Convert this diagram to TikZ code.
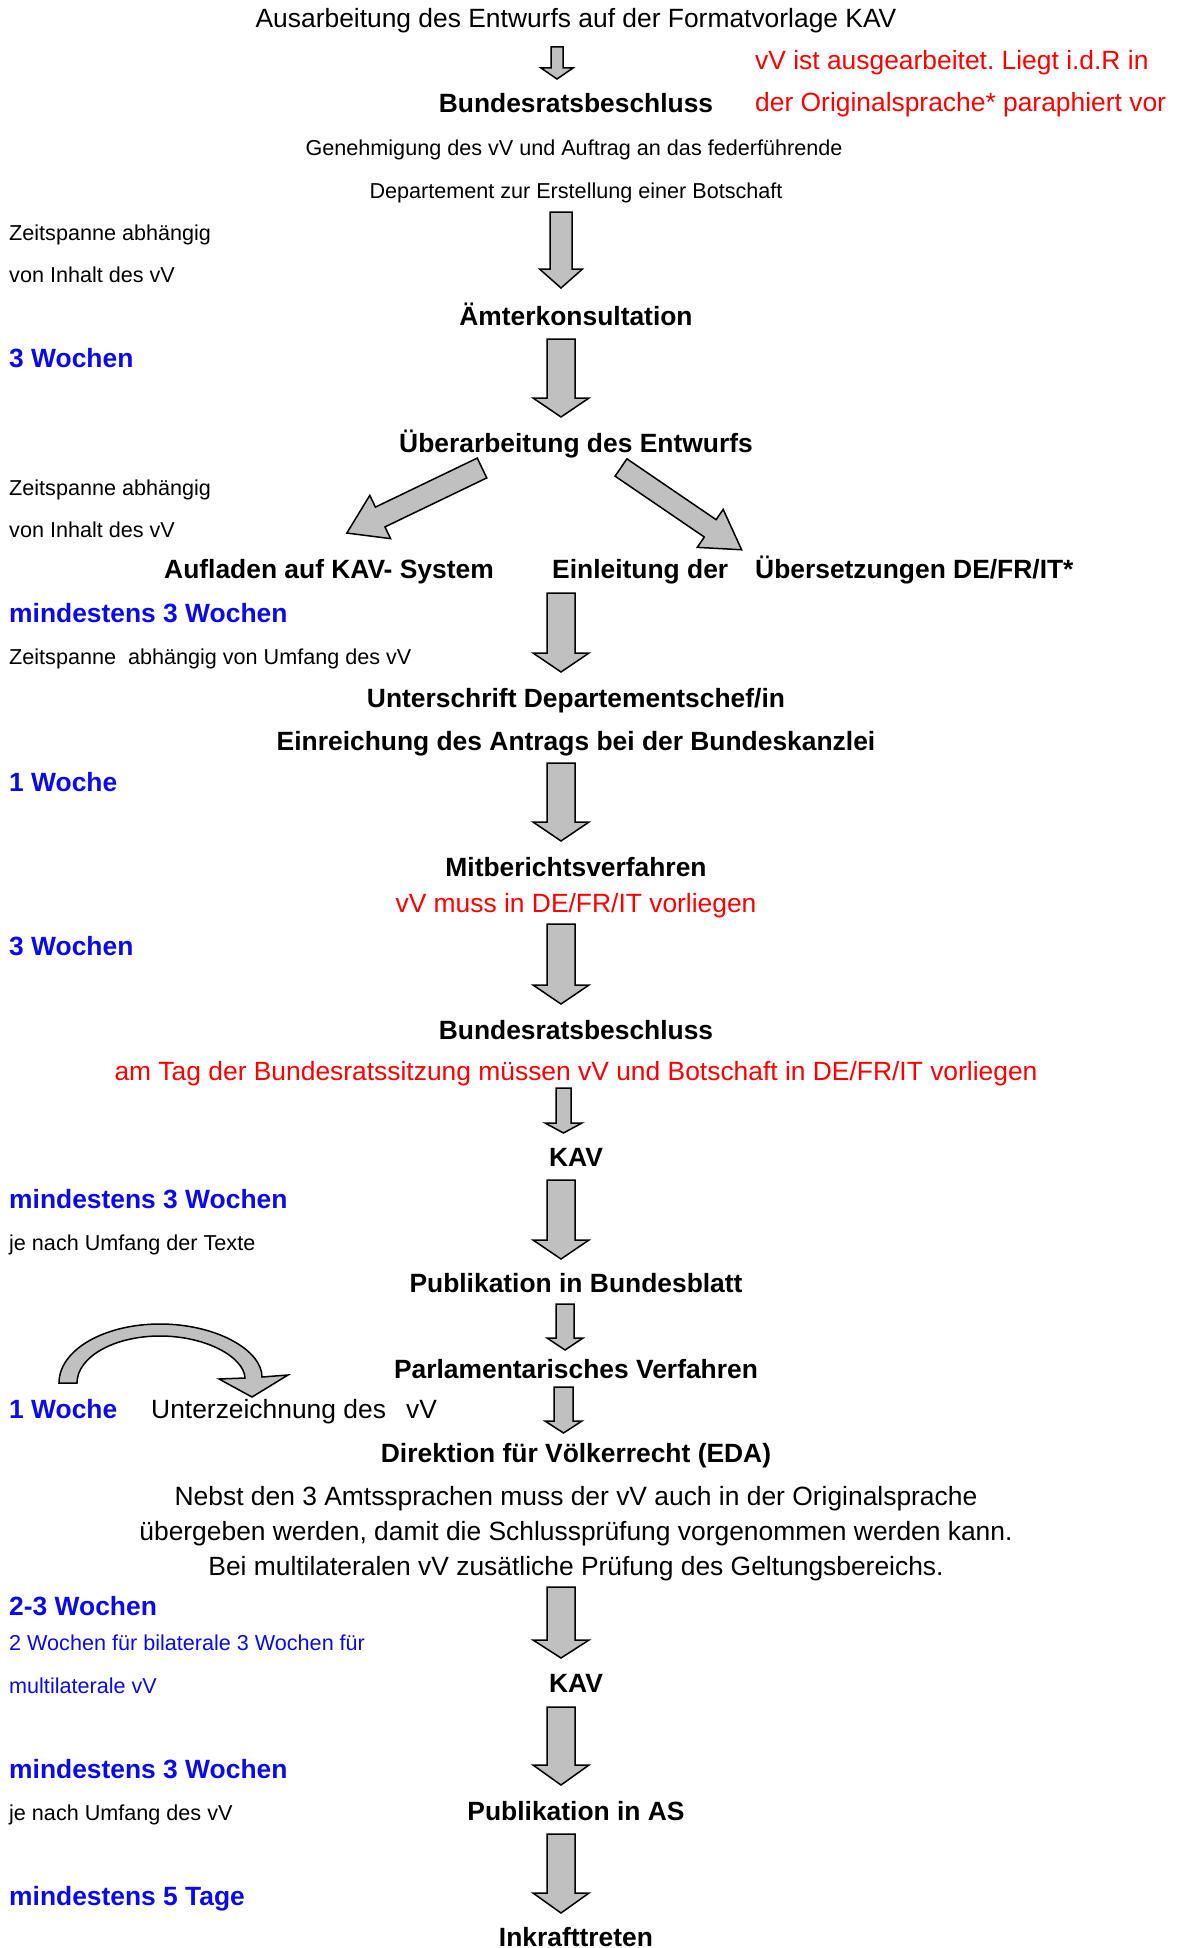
\documentclass[tikz,border=0pt]{standalone}
\usepackage{fontspec}
\setmainfont{Liberation Sans}
\frenchspacing
\definecolor{durblue}{RGB}{10,10,240}
\definecolor{notered}{RGB}{255,0,0}
\definecolor{arrowgray}{RGB}{192,192,192}
\newcommand\varrow[6]{% x, ytop, ytip, shaft half, head half, head length
  \draw[blk] ({#1-#4},#2) -- ({#1+#4},#2) -- ({#1+#4},{#3-#6}) -- ({#1+#5},{#3-#6})
    -- (#1,#3) -- ({#1-#5},{#3-#6}) -- ({#1-#4},{#3-#6}) -- cycle;}
\newcommand\darrow[7]{% tail x, tail y, angle, length, shaft half, head half, head length
  \begin{scope}[shift={(#1,#2)},rotate=#3]
  \draw[blk] (0,-#5) -- ({#4-#7},-#5) -- ({#4-#7},-#6) -- (#4,0) -- ({#4-#7},#6) -- ({#4-#7},#5) -- (0,#5) -- cycle;
  \end{scope}}
\begin{document}
\begin{tikzpicture}[x=1pt,y=-1pt,
  t/.style={inner sep=0pt, font=\fontsize{26.4}{31}\selectfont},
  tb/.style={inner sep=0pt, font=\fontsize{26.4}{31}\selectfont\bfseries},
  ts/.style={inner sep=0pt, font=\fontsize{21.6}{26}\selectfont},
  title/.style={tb, anchor=base},
  dur/.style={tb, text=durblue, anchor=base west},
  note/.style={ts, anchor=base west},
  rednote/.style={t, text=notered},
  blk/.style={draw=black, line width=1.5pt, fill=arrowgray, line join=miter}]
\useasboundingbox (0,0) rectangle (1183,1948);
\fill[white] (0,0) rectangle (1183,1948);

% ---- texts ----
\node[t, anchor=base] (start) at (576,28) {Ausarbeitung des Entwurfs auf der Formatvorlage KAV};
\node[rednote, anchor=base west] (r1) at (755,70) {vV ist ausgearbeitet. Liegt i.d.R in};
\node[rednote, anchor=base west] (r2) at (755,112) {der Originalsprache* paraphiert vor};
\node[title] (brb1) at (576,113) {Bundesratsbeschluss};
\node[ts, anchor=base] (gen1) at (574,155) {Genehmigung des vV und Auftrag an das federführende};
\node[ts, anchor=base] (gen2) at (576,198) {Departement zur Erstellung einer Botschaft};
\node[note] (z1a) at (9,240) {Zeitspanne abhängig};
\node[note] (z1b) at (9,282) {von Inhalt des vV};
\node[title] (amt) at (576,325) {Ämterkonsultation};
\node[dur] (d1) at (9,367) {3 Wochen};
\node[title] (ueb) at (576,452) {Überarbeitung des Entwurfs};
\node[note] (z2a) at (9,495) {Zeitspanne abhängig};
\node[note] (z2b) at (9,537) {von Inhalt des vV};
\node[tb, anchor=base west] (auf) at (164,578) {Aufladen auf KAV-\ System};
\node[tb, anchor=base west] (einl) at (552,578) {Einleitung der};
\node[tb, anchor=base west] (uebs) at (755,578) {Übersetzungen DE/FR/IT*};
\node[dur] (d2) at (9,622) {mindestens 3 Wochen};
\node[note] (z3) at (9,664) {Zeitspanne\ \ abhängig von Umfang des vV};
\node[title] (unt) at (576,707) {Unterschrift Departementschef/in};
\node[title] (einr) at (576,750) {Einreichung des Antrags bei der Bundeskanzlei};
\node[dur] (d3) at (9,791) {1 Woche};
\node[title] (mit) at (576,876) {Mitberichtsverfahren};
\node[rednote, anchor=base] (r3) at (576,912) {vV muss in DE/FR/IT vorliegen};
\node[dur] (d4) at (9,955) {3 Wochen};
\node[title] (brb2) at (576,1039) {Bundesratsbeschluss};
\node[rednote, anchor=base] (r4) at (576,1080) {am Tag der Bundesratssitzung müssen vV und Botschaft in DE/FR/IT vorliegen};
\node[title] (kav1) at (576,1166) {KAV};
\node[dur] (d5) at (9,1208) {mindestens 3 Wochen};
\node[note] (n5) at (9,1250) {je nach Umfang der Texte};
\node[title] (pbb) at (576,1292) {Publikation in Bundesblatt};
\node[title] (parl) at (576,1378) {Parlamentarisches Verfahren};
\node[dur] (d6) at (9,1418) {1 Woche};
\node[t, anchor=base west] (unz) at (151,1418) {Unterzeichnung des};
\node[t, anchor=base west] (unzv) at (406,1418) {vV};
\node[title] (dvr) at (576,1462) {Direktion für Völkerrecht (EDA)};
\node[t, anchor=base] (nb1) at (576,1505) {Nebst den 3 Amtssprachen muss der vV auch in der Originalsprache};
\node[t, anchor=base] (nb2) at (576,1540) {übergeben werden, damit die Schlussprüfung vorgenommen werden kann.};
\node[t, anchor=base] (nb3) at (576,1575) {Bei multilateralen vV zusätliche Prüfung des Geltungsbereichs.};
\node[dur] (d7) at (9,1615) {2-3 Wochen};
\node[note, text=durblue] (n7a) at (9,1650) {2 Wochen für bilaterale 3 Wochen für};
\node[note, text=durblue] (n7b) at (9,1693) {multilaterale vV};
\node[title] (kav2) at (576,1692) {KAV};
\node[dur] (d8) at (9,1778) {mindestens 3 Wochen};
\node[note] (n8) at (9,1820) {je nach Umfang des vV};
\node[title] (pas) at (576,1820) {Publikation in AS};
\node[dur] (d9) at (9,1905) {mindestens 5 Tage};
\node[title] (ink) at (576,1946) {Inkrafttreten};

% ---- block arrows ----
\varrow{557}{47}{79}{6}{16}{11}
\varrow{561}{212}{288}{11}{21.5}{19}
\varrow{561}{339}{417}{14}{28}{19}
\varrow{561}{593}{672}{14}{28}{19}
\varrow{561}{763}{841}{14}{28}{19}
\varrow{561}{924}{1004}{14}{28}{19}
\varrow{563.5}{1088}{1133}{7.5}{18.5}{10}
\varrow{561}{1180}{1259}{14}{28}{19}
\varrow{565}{1304}{1350}{9}{18}{12}
\varrow{563.5}{1387}{1433}{9.5}{18.5}{12}
\varrow{561}{1587}{1658}{14}{28}{18}
\varrow{561}{1707}{1785}{14}{28}{20}
\varrow{561}{1834}{1913}{14}{28}{20}

% diagonal arrows
\darrow{482}{468}{-154.3}{150}{11}{24}{37}
\darrow{621}{467.5}{-34.3}{146}{10.5}{23}{38}

% curved arrow
\draw[blk] (59,1383) .. controls (59,1350) and (104,1324) .. (160,1324)
  .. controls (216,1324) and (262,1350) .. (262,1377)
  -- (288,1375) -- (252,1397) -- (219,1379) -- (245,1378)
  .. controls (244,1357) and (206,1336) .. (160,1336)
  .. controls (114,1336) and (77,1357) .. (77,1383) -- cycle;
\end{tikzpicture}
\end{document}
